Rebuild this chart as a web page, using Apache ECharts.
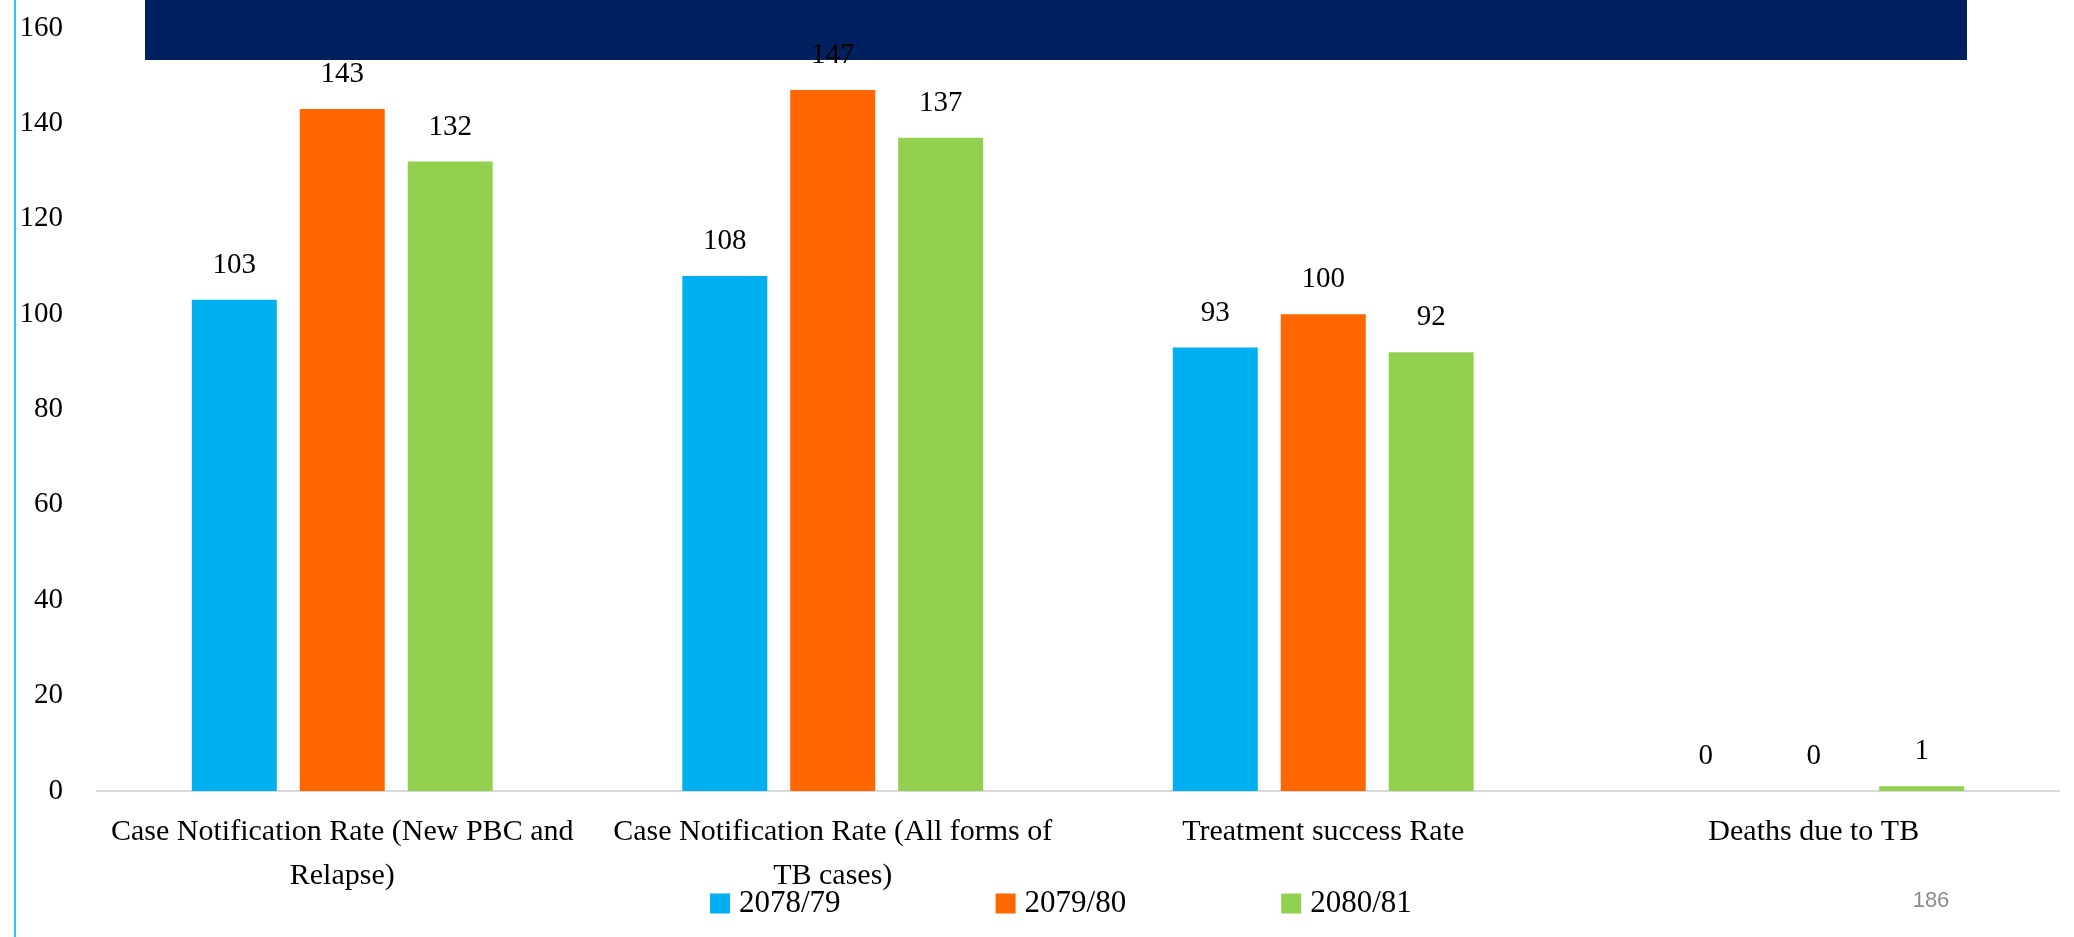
<!DOCTYPE html>
<html lang="en">
<head>
    <meta charset="UTF-8">
    <title>TB indicators</title>
    <script type="text/javascript" src="https://cdn.jsdelivr.net/npm/echarts@6/dist/echarts.min.js"></script>
    <style>
        html, body { margin: 0; padding: 0; background: #fff; }
        #main { width: 2074px; height: 937px; }
    </style>
</head>
<body>
<div id="main"></div>
<script type="text/javascript">
    // categories and values
    var categories = [
        'Case Notification Rate (New PBC and\nRelapse)',
        'Case Notification Rate (All forms of\nTB cases)',
        'Treatment success Rate',
        'Deaths due to TB'
    ];
    var years = ['2078/79', '2079/80', '2080/81'];
    var fy7879 = [103, 108, 93, 0];
    var fy7980 = [143, 147, 100, 0];
    var fy8081 = [132, 137, 92, 1];
    var yTicks = { min: 0, max: 160, interval: 20 };
    var pageNo = '186';

    var colors = ['#00B0F0', '#FF6600', '#92D050'];
    var serif = "'Liberation Serif', 'Times New Roman', serif";

    var myChart = echarts.init(document.getElementById('main'));

    function barSeries(name, data, color) {
        return {
            name: name,
            type: 'bar',
            data: data,
            barWidth: 85,
            barGap: '27%',
            itemStyle: { color: color },
            label: {
                show: true,
                position: 'top',
                distance: 20,
                color: '#000',
                fontFamily: serif,
                fontSize: 29
            }
        };
    }

    var option = {
        animation: false,
        backgroundColor: '#fff',
        textStyle: { fontFamily: serif },
        grid: {
            left: 97,
            right: 15,
            top: 28,
            bottom: 146,
            containLabel: false,
            outerBoundsMode: 'none'
        },
        legend: {
            data: years,
            left: 710,
            top: 888,
            padding: 0,
            icon: 'rect',
            itemWidth: 20,
            itemHeight: 20,
            itemGap: 155,
            textStyle: {
                color: '#000',
                fontFamily: serif,
                fontSize: 31,
                padding: [0, 0, 0, 4]
            }
        },
        xAxis: {
            type: 'category',
            data: categories,
            axisTick: { show: false },
            axisLine: { lineStyle: { color: '#D9D9D9', width: 2 } },
            axisLabel: {
                interval: 0,
                margin: 19,
                color: '#000',
                fontFamily: serif,
                fontSize: 30,
                lineHeight: 44
            }
        },
        yAxis: {
            type: 'value',
            min: yTicks.min,
            max: yTicks.max,
            interval: yTicks.interval,
            axisLine: { show: false },
            axisTick: { show: false },
            splitLine: { show: false },
            axisLabel: {
                margin: 34,
                color: '#000',
                fontFamily: serif,
                fontSize: 29
            }
        },
        graphic: [
            {
                type: 'rect',
                z: -1,
                shape: { x: 145, y: 0, width: 1822, height: 60 },
                style: { fill: '#002060' }
            },
            {
                type: 'line',
                shape: { x1: 15, y1: 0, x2: 15, y2: 937 },
                style: { stroke: '#33C3F0', lineWidth: 2 }
            },
            {
                type: 'text',
                x: 1931,
                y: 901,
                style: {
                    text: pageNo,
                    fill: '#8C8C8C',
                    font: "22px 'Liberation Sans', 'Open Sans', sans-serif",
                    align: 'center',
                    verticalAlign: 'middle'
                }
            }
        ],
        series: [
            barSeries(years[0], fy7879, colors[0]),
            barSeries(years[1], fy7980, colors[1]),
            barSeries(years[2], fy8081, colors[2])
        ]
    };

    myChart.setOption(option);
</script>
</body>
</html>
